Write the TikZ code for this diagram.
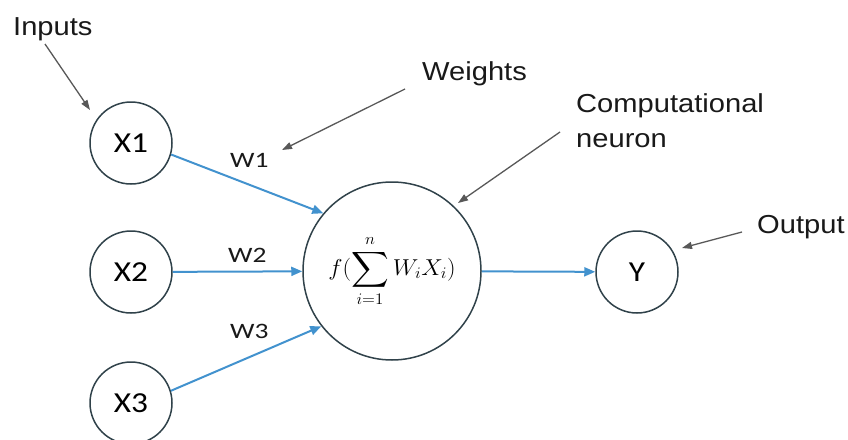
\RequirePackage{fix-cm}
\documentclass[tikz,border=0pt]{standalone}
\usepackage{amsmath}
\usepackage{graphicx}
\usepackage{fontspec}
\usetikzlibrary{arrows.meta}
\newfontfamily\labfont{Liberation Sans}
\newfontfamily\calfont{Carlito}
\newcommand\hstretch[2]{\scalebox{#1}[1]{#2}}
\definecolor{arrblue}{RGB}{66,146,206}
\definecolor{circline}{RGB}{48,66,74}
\definecolor{annot}{RGB}{88,88,88}
\tikzset{
  unit/.style={circle, draw=circline, line width=1.5pt, fill=white, inner sep=0pt, minimum size=82pt,
    font=\calfont\fontsize{29}{32}\selectfont},
  bigunit/.style={unit, minimum size=178pt, font=\fontsize{23}{28}\selectfont},
  lab/.style={inner sep=0pt, anchor=base west, font=\labfont\fontsize{26}{30}\selectfont, text=black!90},
  wlab/.style={inner sep=0pt, anchor=base west, font=\calfont\fontsize{22}{26}\selectfont, text=black!90},
  flow/.style={draw=arrblue, line width=2pt, -{Triangle[length=11pt,width=9pt]}},
  annotarrow/.style={draw=annot, line width=1.3pt, -{Triangle[length=10pt,width=7pt]}}
}
\begin{document}
\begin{tikzpicture}[x=1pt,y=-1pt]
\useasboundingbox (0,0) rectangle (848,439);
% units
\node[unit] (x1) at (131,143) {\hstretch{1.15}{X1}};
\node[unit] (x2) at (131,272) {\hstretch{1.15}{X2}};
\node[unit] (x3) at (131,403) {\hstretch{1.15}{X3}};
\node[bigunit] (neuron) at (392,271) {\hstretch{1.05}{$\displaystyle f(\sum_{i=1}^{n} W_i X_i)$}};
\node[unit] (y) at (637,272) {\hstretch{1.15}{Y}};
% weight labels
\node[wlab] (w1) at (230,167) {\hstretch{1.25}{W1}};
\node[wlab] (w2) at (228,262) {\hstretch{1.25}{W2}};
\node[wlab] (w3) at (230,338) {\hstretch{1.25}{W3}};
% flows
\draw[flow] (x1.-16) -- (neuron.140);
\draw[flow] (x2) -- (neuron);
\draw[flow] (x3.17) -- (neuron.218);
\draw[flow] (neuron) -- (y);
% annotations
\node[lab] (inputs) at (13,35) {\hstretch{1.12}{Inputs}};
\node[lab] (weights) at (422,80) {\hstretch{1.12}{Weights}};
\node[lab] (comp) at (576,112) {\hstretch{1.12}{Computational}};
\node[lab] (neur) at (576,147) {\hstretch{1.12}{neuron}};
\node[lab] (output) at (757,233) {\hstretch{1.12}{Output}};
\coordinate (intail) at (45,44);
\coordinate (inhead) at (90,110);
\coordinate (wtail) at (405,89);
\coordinate (whead) at (282,150);
\coordinate (ctail) at (560,132);
\coordinate (chead) at (458,203);
\coordinate (otail) at (742,232);
\coordinate (ohead) at (682,248);
\draw[annotarrow] (intail) -- (inhead);
\draw[annotarrow] (wtail) -- (whead);
\draw[annotarrow] (ctail) -- (chead);
\draw[annotarrow] (otail) -- (ohead);
\end{tikzpicture}
\end{document}
